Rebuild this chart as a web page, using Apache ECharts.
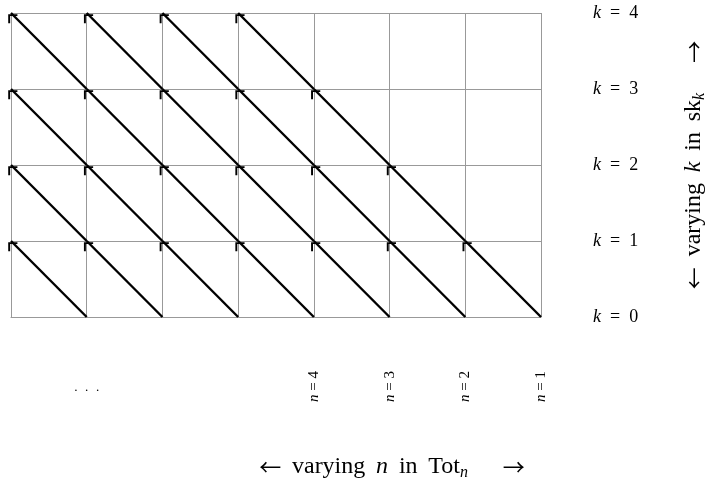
<!DOCTYPE html>
<html>
<head>
<meta charset="utf-8">
<script src="https://cdn.jsdelivr.net/npm/echarts@6/dist/echarts.min.js"></script>
<style>html,body{margin:0;padding:0;background:#fff}#c{width:706px;height:484px}</style>
</head>
<body>
<div id="c"></div>
<script>
// ---- data ----
var xTickValues = [4, 5, 6, 7];          // column positions carrying an n label
var nValues = [4, 3, 2, 1];              // n labels shown at those columns
var dotsTick = 1;                        // column carrying the dots label
var kValues = [0, 1, 2, 3, 4];           // k labels on the right
// arrows: [fromX, fromK, toX, toK]
var arrows = [
  [1,0,0,1],[2,0,1,1],[3,0,2,1],[4,0,3,1],[5,0,4,1],[6,0,5,1],[7,0,6,1],
  [1,1,0,2],[2,1,1,2],[3,1,2,2],[4,1,3,2],[5,1,4,2],[6,1,5,2],
  [1,2,0,3],[2,2,1,3],[3,2,2,3],[4,2,3,3],[5,2,4,3],
  [1,3,0,4],[2,3,1,4],[3,3,2,4],[4,3,3,4]
];
var SP = ' \u2009';
var xTitle = '{a|←}' + SP + 'varying' + SP + '{i|n}' + SP + 'in' + SP + 'Tot{sub|n}\u2003 \u2009{a|→}';
var yTitle = '{a|←}' + SP + 'varying' + SP + '{i|k}' + SP + 'in' + SP + 'sk{sub|k}\u2003 {a|→}';

var SERIF = 'Liberation Serif';
var GRIDC = '#999999';
var TF = 24;
var rich = {
  a: { fontFamily: 'Noto Sans CJK SC', fontSize: 22, color: '#000', lineHeight: 28 },
  i: { fontFamily: SERIF, fontStyle: 'italic', fontSize: TF, color: '#000', lineHeight: 28 },
  sub: { fontFamily: SERIF, fontStyle: 'italic', fontSize: 16, color: '#000', lineHeight: 16, verticalAlign: 'bottom' }
};
var lblRich = { i: { fontFamily: SERIF, fontStyle: 'italic', fontSize: 18, color: '#000' } };
var nRich = { i: { fontFamily: SERIF, fontStyle: 'italic', fontSize: 15, color: '#000' } };

var chart = echarts.init(document.getElementById('c'), null, { renderer: 'canvas' });
chart.setOption({
  animation: false,
  backgroundColor: '#fff',
  title: {
    text: xTitle,
    left: 387, top: 448, textAlign: 'center',
    textStyle: { fontFamily: SERIF, fontSize: TF, fontWeight: 'normal', color: '#000', lineHeight: 28, rich: rich }
  },
  grid: { left: 11, top: 13, width: 530, height: 304, outerBoundsMode: 'none', containLabel: false },
  xAxis: [{
    type: 'value', min: 0, max: 7, interval: 1,
    axisLine: { show: true, lineStyle: { color: GRIDC, width: 1 } },
    axisTick: { show: false },
    splitLine: { show: true, showMinLine: true, showMaxLine: true, lineStyle: { color: GRIDC, width: 1 } },
    axisLabel: {
      rotate: 90, margin: 54, fontFamily: SERIF, fontSize: 15, color: '#000', rich: nRich,
      formatter: function (v) { var j = xTickValues.indexOf(v); return j >= 0 ? '{i|n} = ' + nValues[j] : ''; }
    }
  }, {
    type: 'value', min: 0, max: 7, interval: 1, position: 'bottom',
    axisLine: { show: false }, axisTick: { show: false }, splitLine: { show: false },
    axisLabel: {
      margin: 67, fontFamily: SERIF, fontSize: 13, color: '#000',
      formatter: function (v) { return v === dotsTick ? '·\u2002·\u2002·' : ''; }
    }
  }],
  yAxis: {
    type: 'value', min: 0, max: 4, interval: 1, position: 'right',
    axisLine: { show: true, lineStyle: { color: GRIDC, width: 1 } },
    axisTick: { show: false },
    splitLine: { show: true, showMinLine: true, showMaxLine: true, lineStyle: { color: GRIDC, width: 1 } },
    axisLabel: {
      margin: 52, fontFamily: SERIF, fontSize: 18, color: '#000', rich: lblRich,
      formatter: function (v) { return kValues.indexOf(v) >= 0 ? '{i|k}\u2002=\u2002' + v : ''; }
    },
    name: yTitle, nameLocation: 'middle', nameGap: 139,
    nameTextStyle: { fontFamily: SERIF, fontSize: TF, color: '#000', lineHeight: 28, rich: rich }
  },
  series: [{
    type: 'lines', coordinateSystem: 'cartesian2d', xAxisIndex: 0, yAxisIndex: 0,
    polyline: false, symbol: ['none', 'none'],
    lineStyle: { color: '#000', width: 2.4, opacity: 1, curveness: 0 },
    data: arrows.map(function (a) { return { coords: [[a[0], a[1]], [a[2], a[3]]] }; }),
    z: 3
  }, {
    type: 'scatter', xAxisIndex: 0, yAxisIndex: 0,
    symbol: 'path://M0,0 L5.7,5.7 L4.5,6.9 L0,2.4 L-4.5,6.9 L-5.7,5.7 Z',
    symbolSize: [13, 7.9], symbolRotate: 45, symbolOffset: [0, 3.95],
    itemStyle: { color: '#000', opacity: 1 },
    data: arrows.map(function (a) { return [a[2], a[3]]; }),
    z: 4
  }]
});
</script>
</body>
</html>
